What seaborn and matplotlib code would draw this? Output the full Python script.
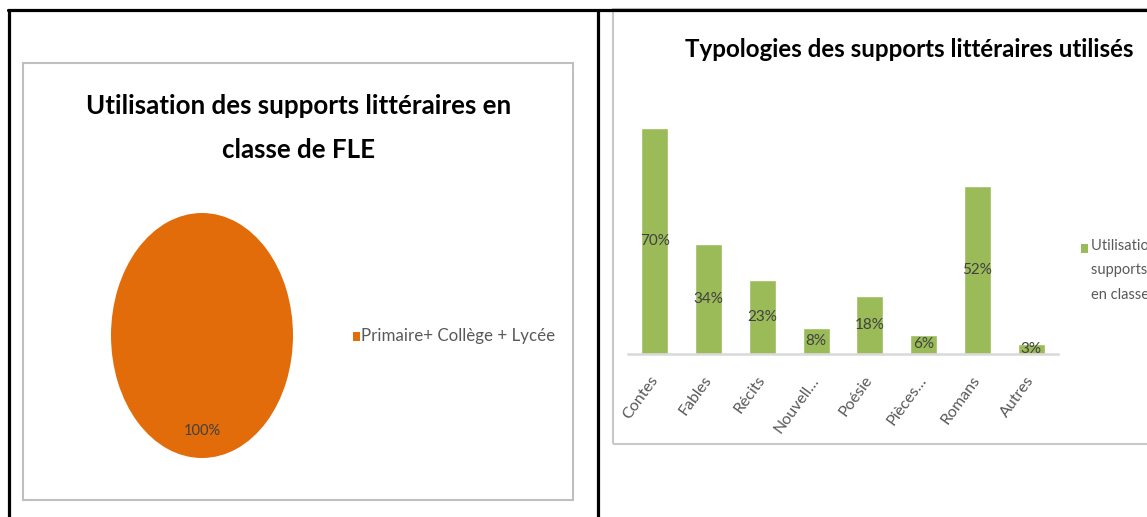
import matplotlib
matplotlib.use("Agg")
import matplotlib.pyplot as plt
from matplotlib.lines import Line2D
from matplotlib.patches import Rectangle
import seaborn as sns
import pandas as pd

# ---------------- data ----------------
pie_labels = ["Primaire+ Collège + Lycée"]
pie_values = [100]
pie_title = "Utilisation des supports littéraires en\nclasse de FLE"

bar_categories = ["Contes", "Fables", "Récits", "Nouvell…", "Poésie", "Pièces…", "Romans", "Autres"]
bar_values = [70, 34, 23, 8, 18, 6, 52, 3]
bar_title = "Typologies des supports littéraires utilisés"
bar_series = "Utilisation des\nsupports littéraires\nen classe de FLE"

ORANGE = "#E36C0A"
GREEN = "#9BBB59"
TXT = "#595959"

sns.set_theme(style="white")
plt.rcParams["font.family"] = ["Lato", "DejaVu Sans"]

W, H = 1147, 517
fig = plt.figure(figsize=(W / 100, H / 100), dpi=100)
fig.patch.set_facecolor("white")


def fx(x):
    return x / W


def fy(y):
    return 1 - y / H


def box(x0, y0, x1, y1):
    return [fx(x0), fy(y1), fx(x1) - fx(x0), fy(y0) - fy(y1)]


# ---------- frames ----------
fig.add_artist(Rectangle((fx(23), fy(500)), fx(573) - fx(23), fy(63) - fy(500),
                         transform=fig.transFigure, fill=False, ec="#BFBFBF", lw=1.5))
fig.add_artist(Rectangle((fx(613), fy(444)), fx(1200) - fx(613), fy(9) - fy(444),
                         transform=fig.transFigure, fill=False, ec="#C8C8C8", lw=1.5,
                         clip_on=False))
for xs, ys in [([8, W], [10, 10]), ([9, 9], [10, H]), ([598, 598], [10, H])]:
    fig.add_artist(Line2D([fx(v) for v in xs], [fy(v) for v in ys],
                          transform=fig.transFigure, color="black", lw=2.3))

# ---------- pie ----------
ax1 = fig.add_axes(box(111, 213, 293, 458))
wedges, texts, autotexts = ax1.pie(pie_values, colors=[ORANGE], startangle=90,
                                   autopct="%d%%", pctdistance=0.78,
                                   wedgeprops=dict(linewidth=0))
ax1.set_aspect("auto")
ax1.set_xlim(-1, 1)
ax1.set_ylim(-1, 1)
ax1.axis("off")
for t in autotexts:
    t.set_color("#404040")
    t.set_fontsize(10.5)

fig.text(fx(299), fy(128), pie_title, ha="center", va="center", fontsize=18.6,
         fontweight="bold", color="black", linespacing=1.95)

fig.add_artist(Rectangle((fx(353), fy(341)), fx(7), 9 / H, transform=fig.transFigure,
                         color=ORANGE, lw=0))
fig.text(fx(361), fy(336), pie_labels[0], ha="left", va="center", fontsize=12.2, color=TXT)

# ---------- bars ----------
ax2 = fig.add_axes(box(628, 95.7, 1058, 354))
df = pd.DataFrame({"cat": bar_categories, "val": bar_values})
sns.barplot(data=df, x="cat", y="val", color=GREEN, saturation=1, width=0.5, ax=ax2)
ax2.set_xlim(-0.5, len(bar_categories) - 0.5)
ax2.set_ylim(0, 80)
ax2.set_xlabel("")
ax2.set_ylabel("")
ax2.set_yticks([])
for s in ["top", "right", "left"]:
    ax2.spines[s].set_visible(False)
ax2.spines["bottom"].set_color("#D9D9D9")
ax2.spines["bottom"].set_linewidth(1.8)
ax2.tick_params(axis="x", length=0, pad=17)
ax2.set_xticks(range(len(bar_categories)))
ax2.set_xticklabels(bar_categories, rotation=54, ha="right", va="center",
                    rotation_mode="anchor", fontsize=11.5, color=TXT)
ax2.patch.set_alpha(0)
for i, v in enumerate(bar_values):
    ax2.text(i, v / 2, f"{v}%", ha="center", va="center", fontsize=11, color="#404040")

fig.text(fx(909), fy(50), bar_title, ha="center", va="center", fontsize=17.4,
         fontweight="bold", color="black")

fig.add_artist(Rectangle((fx(1081), fy(253)), fx(7), 9 / H, transform=fig.transFigure,
                         color=GREEN, lw=0))
fig.text(fx(1091), fy(239), bar_series, ha="left", va="top", fontsize=10.5, color=TXT,
         linespacing=1.95)

fig.savefig("out.png", dpi=100, facecolor="white")
